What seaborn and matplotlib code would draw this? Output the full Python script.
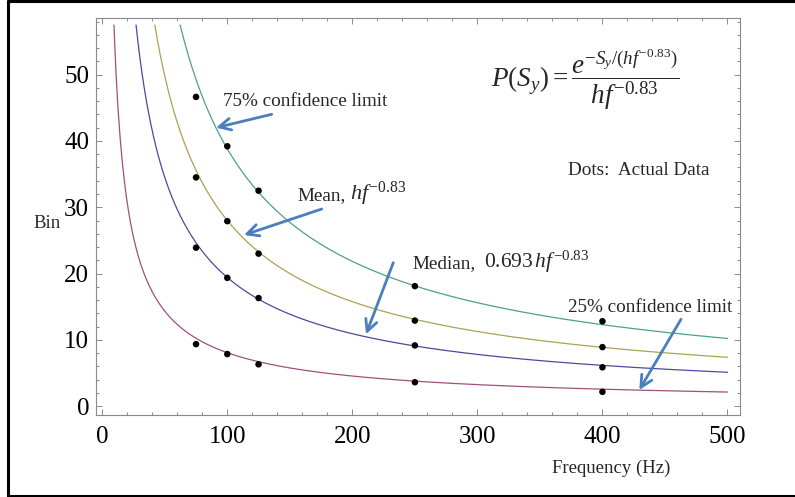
import numpy as np
import pandas as pd
import matplotlib
matplotlib.use("Agg")
import matplotlib.pyplot as plt
import seaborn as sns
from matplotlib.ticker import MultipleLocator
from matplotlib.lines import Line2D

# ---------------- data ----------------
freq_dots = [75, 100, 125, 250, 400]
dots_75 = [46.65, 39.2, 32.5, 18.1, 12.8]
dots_mean = [34.5, 27.9, 23.0, 12.9, 8.9]
dots_median = [23.9, 19.35, 16.3, 9.15, 5.85]
dots_25 = [9.35, 7.85, 6.3, 3.6, 2.15]

# model curves: c * h * f^-0.83 (as stated on the chart)
h_param = 1280.0
exponent = -0.83
curve_names = ["25%", "Median", "Mean", "75%"]
curve_mult = [0.2877, 0.693, 1.0, 1.386]
curve_colors = ["#a0507f", "#4a4a9c", "#aca24f", "#4f9f86"]
y_clip = 57.5
f_max = 500

W, H, DPI = 795, 497, 100

sns.set_theme(style="white")
plt.rcParams["font.family"] = ["Liberation Serif", "DejaVu Serif"]
plt.rcParams["mathtext.fontset"] = "custom"
plt.rcParams["mathtext.rm"] = "Liberation Serif"
plt.rcParams["mathtext.it"] = "Liberation Serif:italic"
plt.rcParams["mathtext.bf"] = "Liberation Serif:bold"

fig = plt.figure(figsize=(W / DPI, H / DPI), dpi=DPI)
fig.patch.set_facecolor("white")

def fx(px):
    return px / W

def fy(py):
    return 1 - py / H

ax = fig.add_axes([fx(96), fy(414.7), fx(740) - fx(96), fy(17.7) - fy(414.7)])

rows = []
for name, c in zip(curve_names, curve_mult):
    f_start = (c * h_param / y_clip) ** (1 / -exponent)
    f = np.linspace(f_start, f_max, 600)
    for fv in f:
        rows.append({"f": fv, "y": c * h_param * fv ** exponent, "curve": name})
curves = pd.DataFrame(rows)

sns.lineplot(data=curves, x="f", y="y", hue="curve", hue_order=curve_names,
             palette=curve_colors, linewidth=0.9, legend=False, ax=ax,
             estimator=None, sort=False)

dots = pd.DataFrame({
    "f": freq_dots * 4,
    "y": dots_75 + dots_mean + dots_median + dots_25,
})
sns.scatterplot(data=dots, x="f", y="y", color="black", s=22, edgecolor="none",
                ax=ax, zorder=5)

ax.set_xlim(-5, 510)
ax.set_ylim(-1.3, 58.6)
ax.set_xlabel("")
ax.set_ylabel("")
ax.xaxis.set_major_locator(MultipleLocator(100))
ax.xaxis.set_minor_locator(MultipleLocator(20))
ax.yaxis.set_major_locator(MultipleLocator(10))
ax.yaxis.set_minor_locator(MultipleLocator(2))
ax.tick_params(which="both", direction="in", top=True, right=True,
               bottom=True, left=True, color="#8a8a8a", width=0.7)
ax.tick_params(which="major", length=4.5, labelsize=18)
ax.tick_params(which="minor", length=2.5)
ax.tick_params(axis="x", which="major", pad=8)
ax.tick_params(axis="y", which="major", pad=5)
for lab in ax.get_xticklabels() + ax.get_yticklabels():
    lab.set_color("black")
for s in ax.spines.values():
    s.set_color("#8a8a8a")
    s.set_linewidth(0.8)

# axis labels as placed in the figure
fig.text(fx(610.7), fy(473), "Frequency (Hz)", ha="center", va="baseline", fontsize=13.5)
fig.text(fx(47), fy(228), "Bin", ha="center", va="baseline", fontsize=13.5)

# annotations
fig.text(fx(222.7), fy(106), "75% confidence limit", ha="left", va="baseline", fontsize=13.8)
fig.text(fx(297), fy(200), "Mean,", ha="left", va="baseline", fontsize=13.8)
fig.text(fx(350), fy(200), r"$hf^{-0.83}$", ha="left", va="baseline", fontsize=16)
fig.text(fx(412), fy(268), "Median,", ha="left", va="baseline", fontsize=13.8)
fig.text(fx(484), fy(268), r"$0.693\,hf^{-0.83}$", ha="left", va="baseline", fontsize=15.5)
fig.text(fx(567.5), fy(311.7), "25% confidence limit", ha="left", va="baseline", fontsize=13.8)
fig.text(fx(567.5), fy(175), "Dots:  Actual Data", ha="left", va="baseline", fontsize=13.8)
fig.text(fx(491), fy(80), r"$P(S_y) = \dfrac{e^{-S_y/(hf^{-0.83})}}{hf^{-0.83}}$",
         ha="left", va="center", fontsize=19.5)

arrow_color = "#4a7fbd"
arrows = [
    ((271.7, 114.3), (216, 127.7)),
    ((321.7, 209), (244, 235)),
    ((393.3, 262.7), (366, 334.3)),
    ((681, 319.3), (639.3, 390)),
]
for (x0, y0), (x1, y1) in arrows:
    ax.annotate("", xy=(fx(x1), fy(y1)), xytext=(fx(x0), fy(y0)),
                xycoords=fig.transFigure, textcoords=fig.transFigure,
                arrowprops=dict(arrowstyle="->,head_length=0.7,head_width=0.35",
                                color=arrow_color, lw=2.0, shrinkA=0, shrinkB=0),
                annotation_clip=False)

# outer black frame (left, top, bottom)
frame_kw = dict(color="black", linewidth=2.2, transform=fig.transFigure)
fig.add_artist(Line2D([fx(8), fx(8)], [fy(1), fy(496)], **frame_kw))
fig.add_artist(Line2D([fx(8), fx(795)], [fy(1), fy(1)], **frame_kw))
fig.add_artist(Line2D([fx(8), fx(795)], [fy(496), fy(496)], **frame_kw))

fig.savefig("out.png", dpi=DPI, facecolor="white")
